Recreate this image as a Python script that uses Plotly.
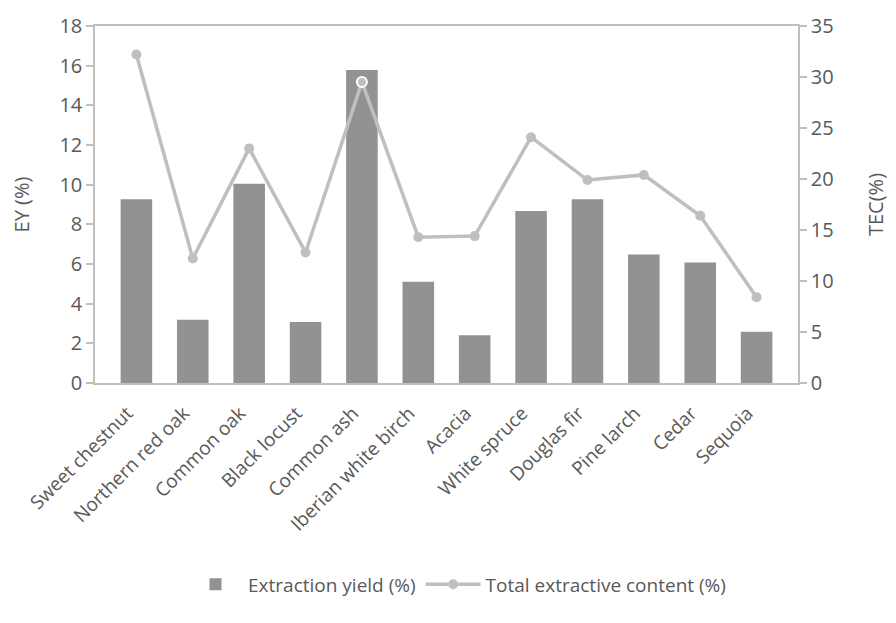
import plotly.graph_objects as go

species = ["Sweet chestnut", "Northern red oak", "Common oak", "Black locust",
           "Common ash", "Iberian white birch", "Acacia", "White spruce",
           "Douglas fir", "Pine larch", "Cedar", "Sequoia"]
extraction_yield = [9.27, 3.19, 10.04, 3.07, 15.78, 5.10, 2.41, 8.67, 9.27, 6.48, 6.08, 2.59]
total_extractive = [32.2, 12.2, 23.0, 12.8, 29.5, 14.3, 14.4, 24.1, 19.9, 20.4, 16.4, 8.4]

ey_ticks = list(range(0, 19, 2))
tec_ticks = list(range(0, 36, 5))

BAR_GRAY = "#929292"
LINE_GRAY = "#BFBFBF"
TEXT_GRAY = "#595959"
FONT = "Open Sans"

# the Common ash point carries a white ring
ring_w = [2 if s == "Common ash" else 0 for s in species]

fig = go.Figure()
fig.add_trace(go.Bar(
    x=species, y=extraction_yield, name="Extraction yield (%)",
    marker=dict(color=BAR_GRAY, line=dict(width=0)),
    yaxis="y",
))
fig.add_trace(go.Scatter(
    x=species, y=total_extractive, name="Total extractive content (%)",
    mode="lines+markers",
    line=dict(color=LINE_GRAY, width=3.5),
    marker=dict(color=LINE_GRAY, size=10, line=dict(color="white", width=ring_w)),
    yaxis="y2",
))

fig.update_layout(
    width=896, height=623,
    margin=dict(l=95, r=91, t=22, b=240),
    paper_bgcolor="white", plot_bgcolor="white",
    font=dict(family=FONT, color=TEXT_GRAY, size=18),
    bargap=0.44,
    showlegend=True,
    legend=dict(orientation="h", x=0.515, xanchor="center",
                yref="container", y=0.062, yanchor="middle",
                font=dict(size=19, color=TEXT_GRAY), itemwidth=55,
                traceorder="normal"),
    xaxis=dict(
        type="category", showline=True, linecolor=LINE_GRAY, linewidth=1.5,
        mirror=True, ticks="", tickangle=-45, showgrid=False,
        ticklabelstandoff=10, ticklabelshift=-9,
        tickfont=dict(size=19, color=TEXT_GRAY),
    ),
    yaxis=dict(
        range=[0, 18], tickvals=ey_ticks, showgrid=False, zeroline=False,
        showline=True, linecolor=LINE_GRAY, linewidth=1.5,
        ticks="outside", ticklen=7, tickcolor=LINE_GRAY, tickwidth=1.5,
        tickfont=dict(size=20, color=TEXT_GRAY),
        title=dict(text="EY (%)", font=dict(size=20, color=TEXT_GRAY), standoff=24),
    ),
    yaxis2=dict(
        range=[0, 35], tickvals=tec_ticks, overlaying="y", side="right",
        showgrid=False, zeroline=False,
        showline=True, linecolor=LINE_GRAY, linewidth=1.5,
        ticks="outside", ticklen=7, tickcolor=LINE_GRAY, tickwidth=1.5,
        tickfont=dict(size=20, color=TEXT_GRAY),
        title=dict(text="TEC(%)", font=dict(size=20, color=TEXT_GRAY), standoff=36),
    ),
)

fig.write_html("out.html")
